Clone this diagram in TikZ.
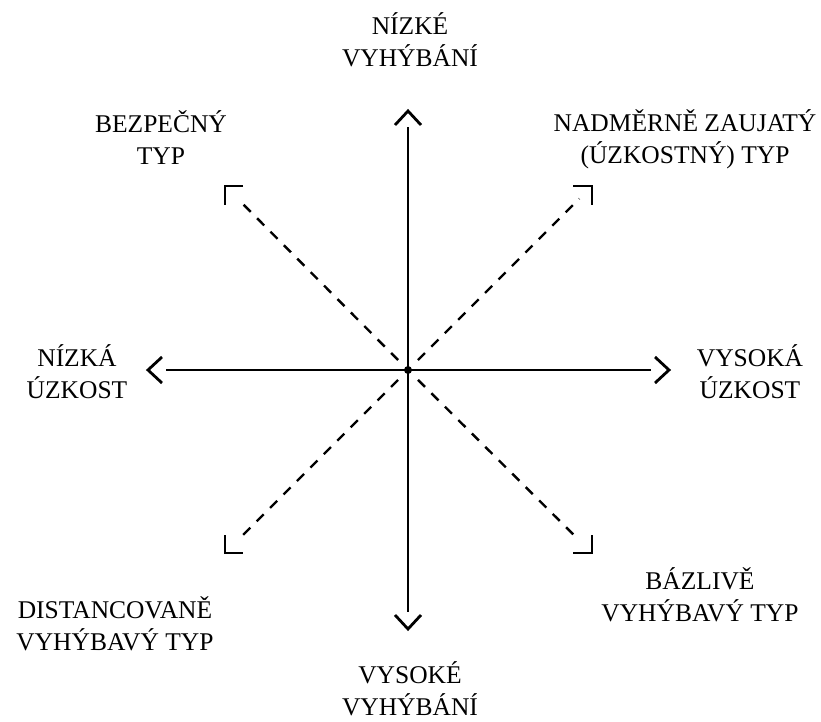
\documentclass[tikz,border=0pt]{standalone}
\usepackage{fontspec}
\setmainfont{Liberation Serif}
\begin{document}
\begin{tikzpicture}[x=1pt,y=-1pt,
  lbl/.style={align=center,inner sep=0pt,font=\fontsize{25.5}{32}\selectfont},
  axis/.style={line width=2.6pt},
  chev/.style={line width=2.8pt,line cap=butt,line join=miter},
  diag/.style={line width=2.4pt,dash pattern=on 10pt off 9pt,shorten <=14pt,shorten >=18pt},
  corner/.style={line width=2.8pt,line join=miter}]
\useasboundingbox (0,0) rectangle (821,722);
% centre
\node[circle,fill=black,inner sep=0pt,minimum size=8pt] (c) at (408,370) {};
% tips
\coordinate (N) at (408,111);
\coordinate (S) at (408,629);
\coordinate (W) at (148,370);
\coordinate (E) at (669,370);
\coordinate (Nl) at (408,127);
\coordinate (Sl) at (408,612);
\coordinate (Wl) at (166,370);
\coordinate (El) at (651,370);
% axes
\draw[axis] (c.center) -- (Nl);
\draw[axis] (c.center) -- (Sl);
\draw[axis] (c.center) -- (Wl);
\draw[axis] (c.center) -- (El);
\draw[chev] ([xshift=-13,yshift=-14]N) -- (N) -- ([xshift=13,yshift=-14]N);
\draw[chev] ([xshift=-13,yshift=14]S) -- (S) -- ([xshift=13,yshift=14]S);
\draw[chev] ([xshift=14,yshift=13]W) -- (W) -- ([xshift=14,yshift=-13]W);
\draw[chev] ([xshift=-14,yshift=13]E) -- (E) -- ([xshift=-14,yshift=-13]E);
% corners
\coordinate (TL) at (225,186);
\coordinate (TR) at (592,186);
\coordinate (BL) at (225,553);
\coordinate (BR) at (592,553);
\draw[diag] (c.center) -- (TL);
\draw[diag] (c.center) -- (TR);
\draw[diag] (c.center) -- (BL);
\draw[diag] (c.center) -- (BR);
\draw[corner] ([xshift=18]TL) -- (TL) -- ([yshift=-19]TL);
\draw[corner] ([xshift=-19]TR) -- (TR) -- ([yshift=-19]TR);
\draw[corner] ([yshift=18]BL) -- (BL) -- ([xshift=18]BL);
\draw[corner] ([yshift=18]BR) -- (BR) -- ([xshift=-19]BR);
% labels
\node[lbl] (lN) at (410,40) {NÍZKÉ\\VYHÝBÁNÍ};
\node[lbl] (lS) at (410,689) {VYSOKÉ\\VYHÝBÁNÍ};
\node[lbl] (lW) at (77,372) {NÍZKÁ\\ÚZKOST};
\node[lbl] (lE) at (750,372) {VYSOKÁ\\ÚZKOST};
\node[lbl] (lTL) at (161,138) {BEZPEČNÝ\\TYP};
\node[lbl] (lTR) at (685,139) {NADMĚRNĚ ZAUJATÝ\\(ÚZKOSTNÝ) TYP};
\node[lbl] (lBL) at (115,624) {DISTANCOVANĚ\\VYHÝBAVÝ TYP};
\node[lbl] (lBR) at (700,595) {BÁZLIVĚ\\VYHÝBAVÝ TYP};
\end{tikzpicture}
\end{document}
